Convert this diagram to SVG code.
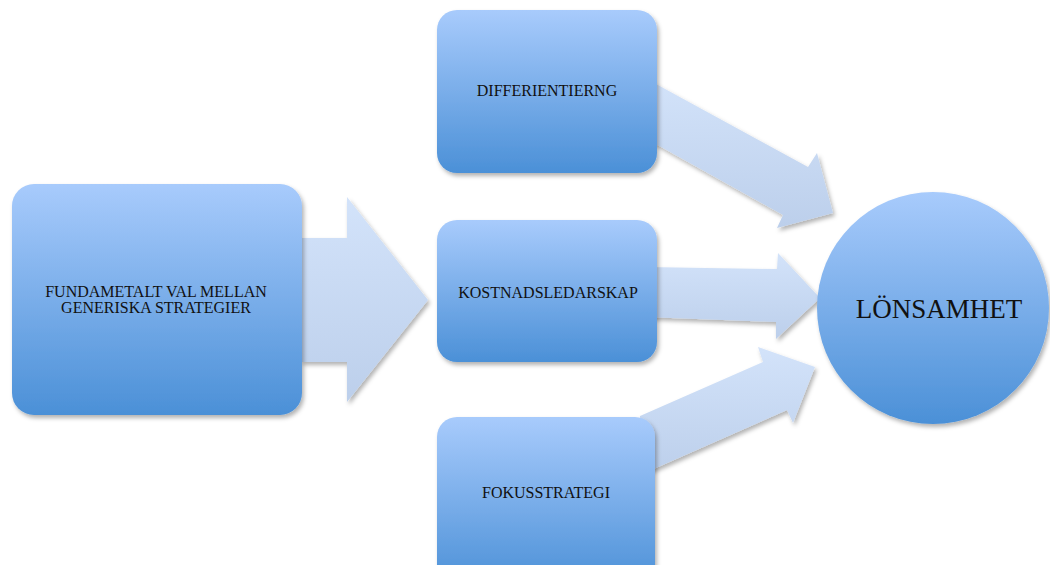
<svg xmlns="http://www.w3.org/2000/svg" width="1050" height="565" viewBox="0 0 1050 565">
<defs>
<linearGradient id="boxGrad" x1="0" y1="0" x2="0" y2="1">
<stop offset="0" stop-color="#a8cbfc"/>
<stop offset="1" stop-color="#4b90d7"/>
</linearGradient>
<linearGradient id="arrGrad" x1="0" y1="0" x2="0" y2="1">
<stop offset="0" stop-color="#d3e3fa"/>
<stop offset="1" stop-color="#bccfeb"/>
</linearGradient>
<filter id="shadow" x="-10%" y="-10%" width="130%" height="130%">
<feDropShadow dx="2" dy="3" stdDeviation="2" flood-color="#000" flood-opacity="0.3"/>
</filter>
</defs>
<style>
.box{fill:url(#boxGrad);filter:url(#shadow);}
.arr{fill:url(#arrGrad);filter:url(#shadow);}
.lbl{font-family:"Liberation Serif","Times New Roman",serif;font-size:16px;fill:#111;text-anchor:middle;}
.big{font-family:"Liberation Serif","Times New Roman",serif;font-size:27px;fill:#111;text-anchor:middle;}
</style>
<g id="connectors">
<polygon class="arr" points="301,238 347,238 347,197 428,300 347,402 347,362 301,362"/>
<polygon class="arr" points="645,78 808,167 817,153 833,213 777,228 783,215 645,138"/>
<polygon class="arr" points="645,267 777,269 778,253 820,298 776,339 776,322 645,317"/>
<polygon class="arr" points="640,416 763,362 758,347 815,367 793,423 787,410 640,475"/>
</g>
<g id="node-fundamental">
<rect class="box" x="12" y="184" width="290" height="231" rx="22"/>
<text class="lbl" x="156" y="297">FUNDAMETALT VAL MELLAN</text>
<text class="lbl" x="156" y="313">GENERISKA STRATEGIER</text>
</g>
<g id="node-differentiering">
<rect class="box" x="437" y="10" width="220" height="163" rx="20"/>
<text class="lbl" x="547" y="96">DIFFERIENTIERNG</text>
</g>
<g id="node-kostnad">
<rect class="box" x="437" y="220" width="220" height="142" rx="20"/>
<text class="lbl" x="548" y="298">KOSTNADSLEDARSKAP</text>
</g>
<g id="node-fokus">
<rect class="box" x="437" y="417" width="218" height="170" rx="20"/>
<text class="lbl" x="546" y="498">FOKUSSTRATEGI</text>
</g>
<g id="node-lonsamhet">
<circle class="box" cx="933" cy="308" r="116"/>
<text class="big" x="939" y="318">LÖNSAMHET</text>
</g>
</svg>
